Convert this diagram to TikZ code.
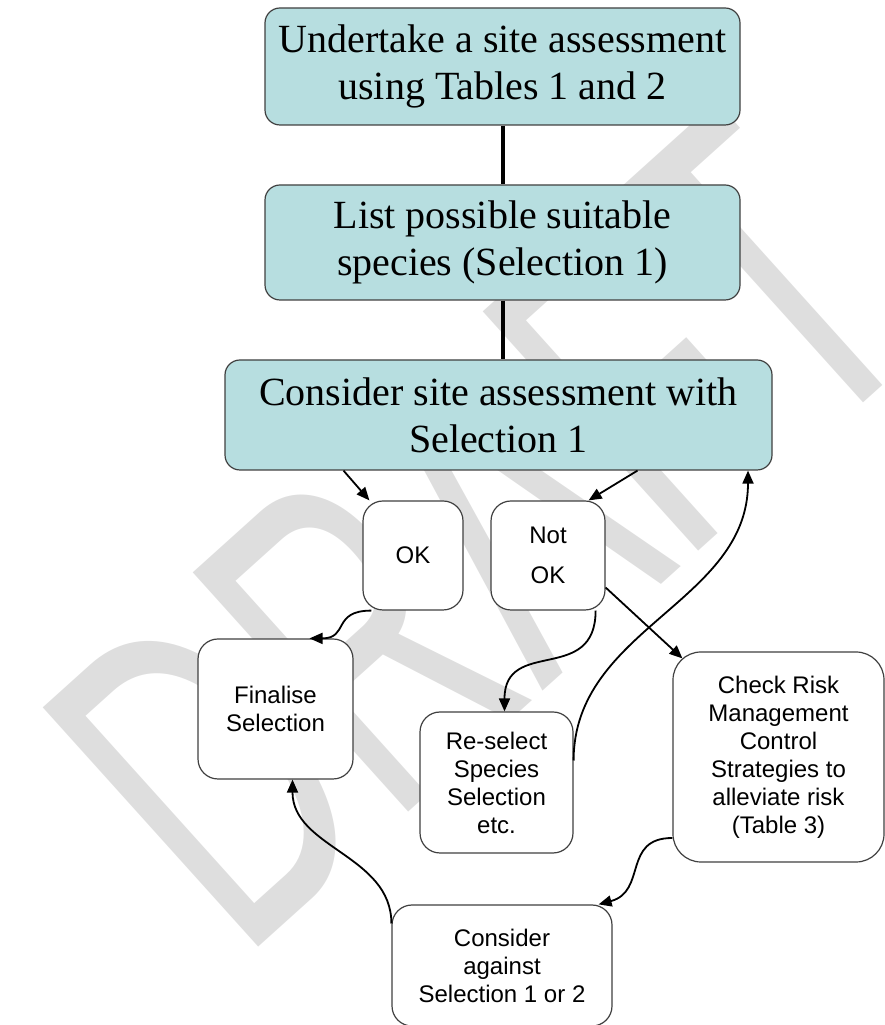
\documentclass[tikz,border=0pt]{standalone}
\usepackage{fontspec}
\setmainfont{Liberation Serif}
\newfontfamily\arialfont{Liberation Sans}
\usetikzlibrary{arrows.meta}
\definecolor{stepteal}{HTML}{B7DEE0}
\definecolor{edgegray}{HTML}{404040}
\definecolor{draftgray}{HTML}{DEDEDE}

\begin{document}
\begin{tikzpicture}[
    x=1pt,
    y=1pt,
    tealbox/.style={rectangle, rounded corners=15pt, draw=edgegray, line width=1.2pt, fill=stepteal, align=center, inner sep=0pt, font=\fontsize{40}{47}\selectfont},
    whitebox/.style={rectangle, rounded corners=20pt, draw=edgegray, line width=1.2pt, fill=white, align=center, inner sep=0pt, font=\arialfont\fontsize{24}{28}\selectfont},
    joint/.style={line width=4pt, draw=black},
    link/.style={-{Triangle[length=13pt,width=11pt]}, line width=1.8pt, draw=black},
    mark/.style={}
  ]
    \useasboundingbox (0,0) rectangle (885,1025);
    % watermark behind everything
    \node[rotate=42, xscale=0.6, anchor=base west, inner sep=0pt, text=draftgray, font=\arialfont\fontsize{468}{468}\selectfont] (draft) at (241,62) {DRAFT};

    \node[tealbox, minimum width=475pt, minimum height=117pt] (assess) at (502.5,958.5) {Undertake a site assessment\\using Tables 1 and 2};
    \node[tealbox, minimum width=475pt, minimum height=115pt] (species) at (502.5,782.5) {List possible suitable\\species (Selection 1)};
    \node[tealbox, minimum width=547pt, minimum height=110pt] (compare) at (498.5,610) {Consider site assessment with\\Selection 1};
    \node[whitebox, minimum width=100pt, minimum height=109pt] (ok) at (413,469.5) {OK};
    \node[whitebox, minimum width=114pt, minimum height=109pt] (notok) at (548,469.5) {Not\\[12pt]OK};
    \node[whitebox, minimum width=155pt, minimum height=140pt] (finalise) at (275.5,316) {Finalise\\Selection};
    \node[whitebox, minimum width=153pt, minimum height=141pt] (reselect) at (496.5,242.5) {Re-select\\Species\\Selection\\etc.};
    \node[whitebox, rounded corners=28pt, minimum width=211pt, minimum height=210pt] (riskcheck) at (778.5,268) {Check Risk\\Management\\Control\\Strategies to\\alleviate risk\\(Table 3)};
    \node[whitebox, minimum width=220pt, minimum height=121pt] (against) at (502,59.5) {Consider\\against\\Selection 1 or 2};

    \draw[joint] (assess.south) -- (species.north);
    \draw[joint] (species.south) -- (species.south |- compare.north);
    \draw[link] ([xshift=-155pt]compare.south) -- ([xshift=7pt]ok.north west);
    \draw[link] ([xshift=139pt]compare.south) -- ([xshift=-17pt]notok.north east);
    \draw[link] ([xshift=9pt]ok.south west) to[out=180,in=0,looseness=1.5] ([xshift=34pt]finalise.north);
    \draw[link] ([xshift=-10pt]notok.south east) to[out=-90,in=90,looseness=1.4] ([xshift=8pt]reselect.north);
    \draw[link] ([yshift=-32pt]notok.east) -- ([shift={(10pt,-7pt)}]riskcheck.north west);
    \draw[link] ([yshift=22pt]reselect.east) to[out=90,in=-90] ([xshift=249.5pt]compare.south);
    \draw[link] ([yshift=-81pt]riskcheck.west) to[out=180,in=15,looseness=1.3] ([xshift=-14pt]against.north east);
    \draw[link] ([yshift=42pt]against.west) to[out=90,in=-90] ([xshift=17pt]finalise.south);
  \end{tikzpicture}
\end{document}
